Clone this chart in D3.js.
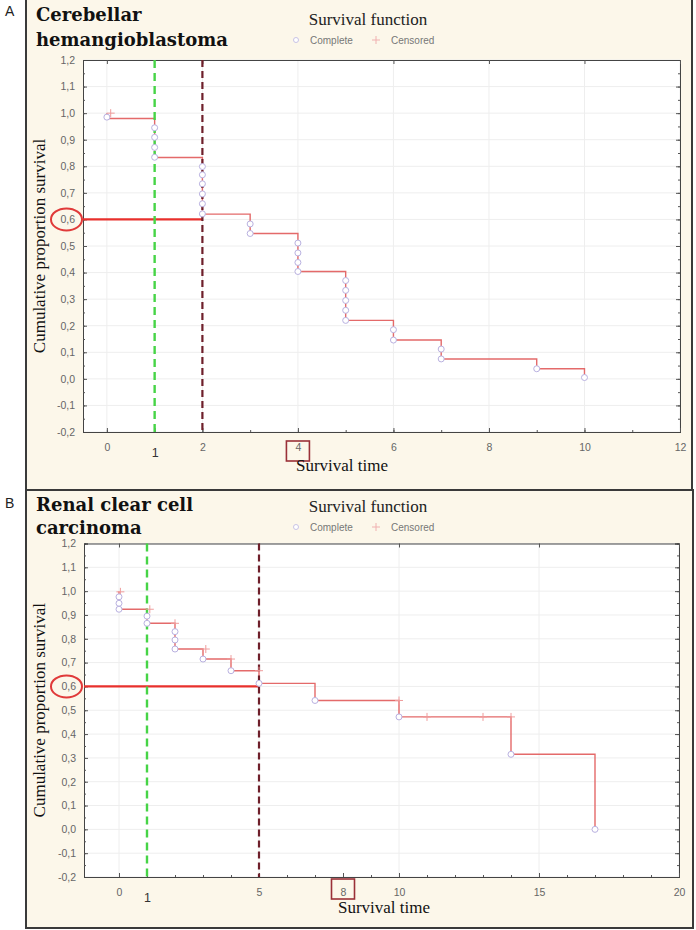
<!DOCTYPE html>
<html>
<head>
<meta charset="utf-8">
<script src="https://cdn.jsdelivr.net/npm/d3@7"></script>
<style>
  body { margin: 0; background: #fff; }
  svg { display: block; }
</style>
</head>
<body>
<svg id="chart"></svg>
<script>
// y ticks shared by both panels
const yTicks = [-0.2, -0.1, 0.0, 0.1, 0.2, 0.3, 0.4, 0.5, 0.6, 0.7, 0.8, 0.9, 1.0, 1.1, 1.2];

// panel A - cerebellar hemangioblastoma
const titleA = ["Cerebellar", "hemangioblastoma"];
const xTicksA = [0, 1, 2, 4, 6, 8, 10, 12];
const xGridA = [0, 2, 4, 6, 8, 10, 12];
const stepTimeA = [0, 0, 1, 2, 3, 4, 5, 6, 7, 9, 10];
const stepSurvA = [1.0, 0.98, 0.833, 0.62, 0.547, 0.404, 0.22, 0.146, 0.075, 0.038, 0.0];
const completeTimeA = [0, 1, 1, 1, 1, 2, 2, 2, 2, 2, 2, 3, 3, 4, 4, 4, 4, 5, 5, 5, 5, 5, 6, 6, 7, 7, 9, 10];
const completeSurvA = [0.985, 0.945, 0.909, 0.871, 0.834, 0.799, 0.768, 0.734, 0.696, 0.659, 0.621, 0.583, 0.547,
  0.511, 0.474, 0.438, 0.404, 0.37, 0.333, 0.295, 0.258, 0.22, 0.185, 0.146, 0.112, 0.075, 0.038, 0.005];
const censorTimeA = [0.08];
const censorSurvA = [1.0];

// panel B - renal clear cell carcinoma
const titleB = ["Renal clear cell", "carcinoma"];
const xTicksB = [0, 1, 5, 8, 10, 15, 20];
const xGridB = [0, 5, 10, 15, 20];
const stepTimeB = [0, 0, 1, 2, 3, 4, 5, 7, 10, 14, 17];
const stepSurvB = [1.0, 0.924, 0.865, 0.757, 0.715, 0.666, 0.613, 0.541, 0.472, 0.315, 0.0];
const completeTimeB = [0, 0, 0, 1, 1, 2, 2, 2, 3, 4, 5, 7, 10, 14, 17];
const completeSurvB = [0.976, 0.949, 0.924, 0.895, 0.865, 0.83, 0.795, 0.757, 0.715, 0.666, 0.613, 0.541, 0.472, 0.315, 0.0];
const censorTimeB = [0.05, 1.1, 2.0, 3.1, 4.0, 5.0, 10.0, 11.0, 13.0, 14.0];
const censorSurvB = [0.997, 0.924, 0.865, 0.757, 0.715, 0.666, 0.541, 0.472, 0.472, 0.472];

const W = 696, H = 930;
const svg = d3.select("#chart").attr("width", W).attr("height", H);

const serif = "'Liberation Serif', 'Times New Roman', serif";
const sans = "'Liberation Sans', Arial, sans-serif";
const fmt = v => d3.format(".1f")(v).replace(".", ",").replace("−", "-");

function drawPanel(p) {
    const g = svg.append("g");

    g.append("rect")
        .attr("x", p.box[0]).attr("y", p.box[1])
        .attr("width", p.box[2]).attr("height", p.box[3])
        .attr("fill", "#fcf7ea").attr("stroke", "#3a3a3a").attr("stroke-width", 2);

    g.append("text").attr("x", 5).attr("y", p.letterY).text(p.letter)
        .attr("font-family", sans).attr("font-size", 14).attr("fill", "#222");

    p.title.forEach((t, i) => {
        g.append("text").attr("x", 36).attr("y", p.titleY + i * p.titleGap).text(t)
            .attr("font-family", "'DejaVu Serif', serif").attr("font-weight", "bold")
            .attr("font-size", 18).attr("fill", "#111");
    });

    // legend
    g.append("text").attr("x", 368).attr("y", p.legendY).attr("text-anchor", "middle")
        .text("Survival function")
        .attr("font-family", serif).attr("font-size", 17).attr("fill", "#222");
    const ly = p.legendY + 19;
    g.append("circle").attr("cx", 296).attr("cy", ly - 4).attr("r", 2.5)
        .attr("fill", "#fff").attr("stroke", "#c9c3e6").attr("stroke-width", 1);
    g.append("text").attr("x", 310).attr("y", ly).text("Complete")
        .attr("font-family", sans).attr("font-size", 10).attr("fill", "#777");
    g.append("path").attr("d", `M${372},${ly - 4}h8M${376},${ly - 8}v8`)
        .attr("stroke", "#f0b0b0").attr("stroke-width", 1);
    g.append("text").attr("x", 391).attr("y", ly).text("Censored")
        .attr("font-family", sans).attr("font-size", 10).attr("fill", "#777");

    const x = d3.scaleLinear().domain(p.xDomain).range([p.plot[0], p.plot[1]]);
    const y = d3.scaleLinear().domain([-0.2, 1.2]).range([p.plot[3], p.plot[2]]);
    const [x0, x1, y0, y1] = [p.plot[0], p.plot[1], p.plot[2], p.plot[3]];

    g.append("rect").attr("x", x0).attr("y", y0).attr("width", x1 - x0).attr("height", y1 - y0)
        .attr("fill", "#fff");

    // grid
    g.selectAll(".gy").data(yTicks).enter().append("line")
        .attr("x1", x0).attr("x2", x1).attr("y1", d => y(d)).attr("y2", d => y(d))
        .attr("stroke", "#eeeeee").attr("stroke-width", 1);
    g.selectAll(".gx").data(p.xGrid).enter().append("line")
        .attr("x1", d => x(d)).attr("x2", d => x(d)).attr("y1", y0).attr("y2", y1)
        .attr("stroke", "#eeeeee").attr("stroke-width", 1);

    // axes with inward ticks
    const yMinor = d3.range(-0.2, 1.2001, 0.05);
    const left = g.append("g").attr("transform", `translate(${x0},0)`)
        .call(d3.axisLeft(y).tickValues(yTicks).tickFormat(fmt).tickSize(-4).tickPadding(8));
    left.append("g").call(d3.axisLeft(y).tickValues(yMinor).tickFormat("").tickSize(-2));
    g.append("g").attr("transform", `translate(${x1},0)`)
        .call(d3.axisRight(y).tickValues(yTicks).tickFormat("").tickSize(-4))
        .append("g").call(d3.axisRight(y).tickValues(yMinor).tickFormat("").tickSize(-2));

    const bottom = g.append("g").attr("transform", `translate(0,${y1})`)
        .call(d3.axisBottom(x).tickValues(p.xTicks).tickFormat(d => d).tickSize(-4).tickPadding(12));
    bottom.append("g").call(d3.axisBottom(x).tickValues(p.xMinor).tickFormat("").tickSize(-2));
    g.append("g").attr("transform", `translate(0,${y0})`)
        .call(d3.axisTop(x).tickValues(p.xTicks.filter(d => d !== p.greenAt && d !== p.boxAt)).tickFormat("").tickSize(-4));

    g.selectAll(".domain").attr("stroke", "#444");
    g.selectAll(".tick line").attr("stroke", "#555");
    g.selectAll(".tick text").attr("font-family", sans).attr("font-size", 10.5).attr("fill", "#666");
    bottom.selectAll(".tick text")
        .filter(d => d === p.greenAt)
        .attr("font-size", 12.5).attr("fill", "#333").attr("dy", "1.05em");

    // boxed tick
    const bx = x(p.boxAt);
    g.append("rect").attr("x", bx - 11.5).attr("y", y1 + p.boxOff).attr("width", 23).attr("height", 20)
        .attr("fill", "none").attr("stroke", "#9a3038").attr("stroke-width", 1.6);

    g.append("text").attr("x", p.xLabelX).attr("y", p.xLabelY).attr("text-anchor", "middle")
        .text("Survival time").attr("font-family", serif).attr("font-size", 17).attr("fill", "#111");

    g.append("text")
        .attr("transform", `translate(45,${(y0 + y1) / 2}) rotate(-90)`)
        .attr("text-anchor", "middle")
        .text("Cumulative proportion survival")
        .attr("font-family", serif).attr("font-size", 17).attr("fill", "#111");

    // 0,6 highlight
    g.append("ellipse").attr("cx", 66.5).attr("cy", y(0.6)).attr("rx", 15.5).attr("ry", 11)
        .attr("fill", "none").attr("stroke", "#e03a3a").attr("stroke-width", 2);
    g.append("line").attr("x1", x0).attr("x2", x(p.redAt)).attr("y1", y(0.6)).attr("y2", y(0.6))
        .attr("stroke", "#e8302c").attr("stroke-width", 2.2);

    // survival curve
    const line = d3.line().x(d => x(d[0])).y(d => y(d[1])).curve(d3.curveStepAfter);
    g.append("path").datum(d3.zip(p.stepTime, p.stepSurv))
        .attr("d", line).attr("fill", "none").attr("stroke", "#e46a6a").attr("stroke-width", 1.4);

    // reference dashed lines
    g.append("line").attr("x1", x(p.greenAt)).attr("x2", x(p.greenAt)).attr("y1", y0).attr("y2", y1)
        .attr("stroke", "#46d446").attr("stroke-width", 2.4).attr("stroke-dasharray", "8,5");
    g.append("line").attr("x1", x(p.redAt)).attr("x2", x(p.redAt)).attr("y1", y0).attr("y2", y1)
        .attr("stroke", "#6e1f2a").attr("stroke-width", 2.2).attr("stroke-dasharray", "7,4");

    // censored marks
    g.selectAll(".cens").data(d3.zip(p.censorTime, p.censorSurv)).enter().append("path")
        .attr("d", d => `M${x(d[0]) - 4},${y(d[1])}h8M${x(d[0])},${y(d[1]) - 4}v8`)
        .attr("stroke", "#ef9c9c").attr("stroke-width", 1);

    // complete marks
    g.selectAll(".comp").data(d3.zip(p.completeTime, p.completeSurv)).enter().append("circle")
        .attr("cx", d => x(d[0])).attr("cy", d => y(d[1])).attr("r", 3)
        .attr("fill", "#fff").attr("stroke", "#b9b1e0").attr("stroke-width", 1);
}

drawPanel({
    letter: "A", letterY: 16, box: [26, -2, 666, 492], title: titleA, titleY: 21, titleGap: 25, legendY: 25,
    plot: [83, 680, 60, 432], xDomain: [-0.5, 12],
    xTicks: xTicksA, xGrid: xGridA, xMinor: d3.range(0, 12.01, 1),
    greenAt: 1, redAt: 2, boxAt: 4, boxOff: 9, xLabelX: 342, xLabelY: 471,
    stepTime: stepTimeA, stepSurv: stepSurvA,
    completeTime: completeTimeA, completeSurv: completeSurvA,
    censorTime: censorTimeA, censorSurv: censorSurvA
});

drawPanel({
    letter: "B", letterY: 508, box: [26, 490, 667, 438], title: titleB, titleY: 511, titleGap: 23, legendY: 512,
    plot: [84, 679, 543.5, 877], xDomain: [-1.25, 20],
    xTicks: xTicksB, xGrid: xGridB, xMinor: d3.range(0, 20.01, 1),
    greenAt: 1, redAt: 5, boxAt: 8, boxOff: 2, xLabelX: 384, xLabelY: 913,
    stepTime: stepTimeB, stepSurv: stepSurvB,
    completeTime: completeTimeB, completeSurv: completeSurvB,
    censorTime: censorTimeB, censorSurv: censorSurvB
});
</script>
</body>
</html>
